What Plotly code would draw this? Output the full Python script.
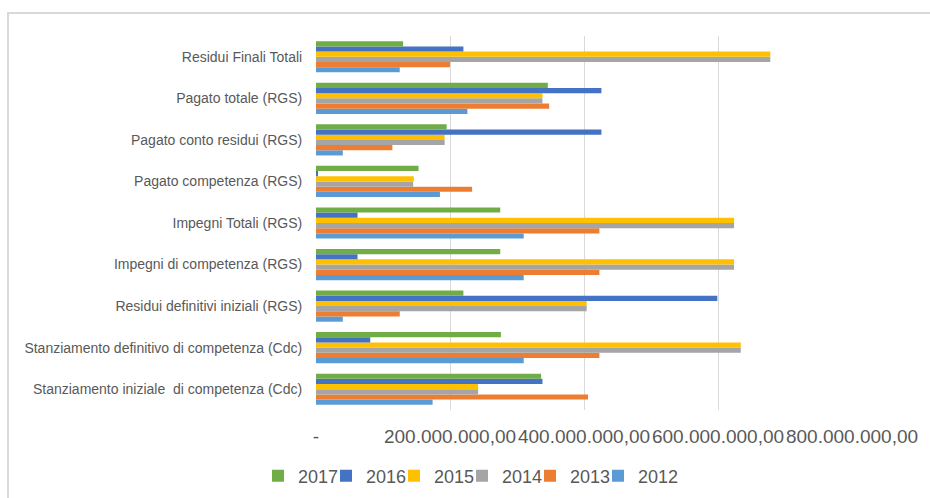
import plotly.graph_objects as go

categories = [
    "Stanziamento iniziale  di competenza (Cdc)",
    "Stanziamento definitivo di competenza (Cdc)",
    "Residui definitivi iniziali (RGS)",
    "Impegni di competenza (RGS)",
    "Impegni Totali (RGS)",
    "Pagato competenza (RGS)",
    "Pagato conto residui (RGS)",
    "Pagato totale (RGS)",
    "Residui Finali Totali",
]

v2012 = [174e6, 310e6, 40e6, 310e6, 310e6, 185e6, 40e6, 226e6, 125e6]
v2013 = [406e6, 423e6, 125e6, 423e6, 423e6, 233e6, 114e6, 348e6, 200e6]
v2014 = [242e6, 634e6, 404e6, 624e6, 624e6, 145e6, 192e6, 338e6, 678e6]
v2015 = [242e6, 634e6, 404e6, 624e6, 624e6, 146e6, 192e6, 338e6, 678e6]
v2016 = [338e6, 81e6, 599e6, 62e6, 62e6, 1.5e6, 426e6, 426e6, 220e6]
v2017 = [336e6, 276e6, 220e6, 275e6, 275e6, 153e6, 195e6, 346e6, 130e6]

years = ["2012", "2013", "2014", "2015", "2016", "2017"]
series = [v2012, v2013, v2014, v2015, v2016, v2017]
colors = ["#5B9BD5", "#ED7D31", "#A5A5A5", "#FFC000", "#4472C4", "#70AD47"]

tick_vals = [0, 200e6, 400e6, 600e6, 800e6]
tick_text = ["-", "200.000.000,00", "400.000.000,00", "600.000.000,00", "800.000.000,00"]

FONT = "Liberation Sans, Arial, sans-serif"
TXT = "#595959"

W, H = 930, 498
L, R, T, B = 316, 78, 36, 88
pw, ph = W - L - R, H - T - B

fig = go.Figure()
legend_layouts = {}
n = len(years)
for i, (yr, vals, c) in enumerate(zip(years, series, colors)):
    slot = n - 1 - i  # 2017 first in the legend row
    key = "legend" if slot == 0 else f"legend{slot + 1}"
    fig.add_trace(go.Bar(y=categories, x=vals, name=yr, orientation="h",
                         legend=key,
                         marker=dict(color=c, line=dict(width=0))))
    legend_layouts[key] = dict(
        orientation="h",
        x=(258 + 68 * slot - L) / pw, xanchor="left",
        y=(H - B - 476) / ph, yanchor="middle",
        font=dict(size=18, color=TXT, family=FONT),
        itemwidth=30, bgcolor="rgba(0,0,0,0)")

fig.update_layout(
    width=W, height=H,
    margin=dict(l=L, r=R, t=T, b=B, pad=0, autoexpand=False),
    paper_bgcolor="white", plot_bgcolor="white",
    barmode="group", bargap=0.25, bargroupgap=0,
    font=dict(family=FONT, color=TXT),
    showlegend=True,
    xaxis=dict(range=[0, 8e8], tickvals=tick_vals, ticktext=tick_text,
               tickangle=0, automargin=False,
               showgrid=True, gridcolor="#D9D9D9", gridwidth=1,
               zeroline=False, showline=False,
               ticks="outside", ticklen=9, tickcolor="rgba(0,0,0,0)",
               tickfont=dict(size=19, color=TXT, family=FONT)),
    yaxis=dict(type="category", showgrid=False, zeroline=False, showline=False,
               automargin=False,
               ticks="outside", ticklen=10, tickcolor="rgba(0,0,0,0)",
               tickfont=dict(size=14, color=TXT, family=FONT)),
    shapes=[dict(type="rect", xref="paper", yref="paper",
                 x0=(8 - L) / pw, x1=(W + 20 - L) / pw,
                 y0=(H - B - (H + 20)) / ph, y1=1 + (T - 13) / ph,
                 line=dict(color="#D9D9D9", width=2), fillcolor="rgba(0,0,0,0)",
                 layer="below")],
    annotations=[
        dict(text="(", xref="paper", yref="paper", x=(143 - L) / pw, y=1 + (T - 2) / ph,
             xanchor="center", yanchor="bottom", showarrow=False,
             font=dict(size=18, color="#222222", family=FONT)),
        dict(text=")", xref="paper", yref="paper", x=(277 - L) / pw, y=1 + (T - 2) / ph,
             xanchor="center", yanchor="bottom", showarrow=False,
             font=dict(size=18, color="#222222", family=FONT)),
    ],
)
fig.update_layout(**legend_layouts)

fig.write_html("out.html", config={"displayModeBar": False},
               post_script="document.body.style.margin='0px';document.body.style.overflow='hidden';")
